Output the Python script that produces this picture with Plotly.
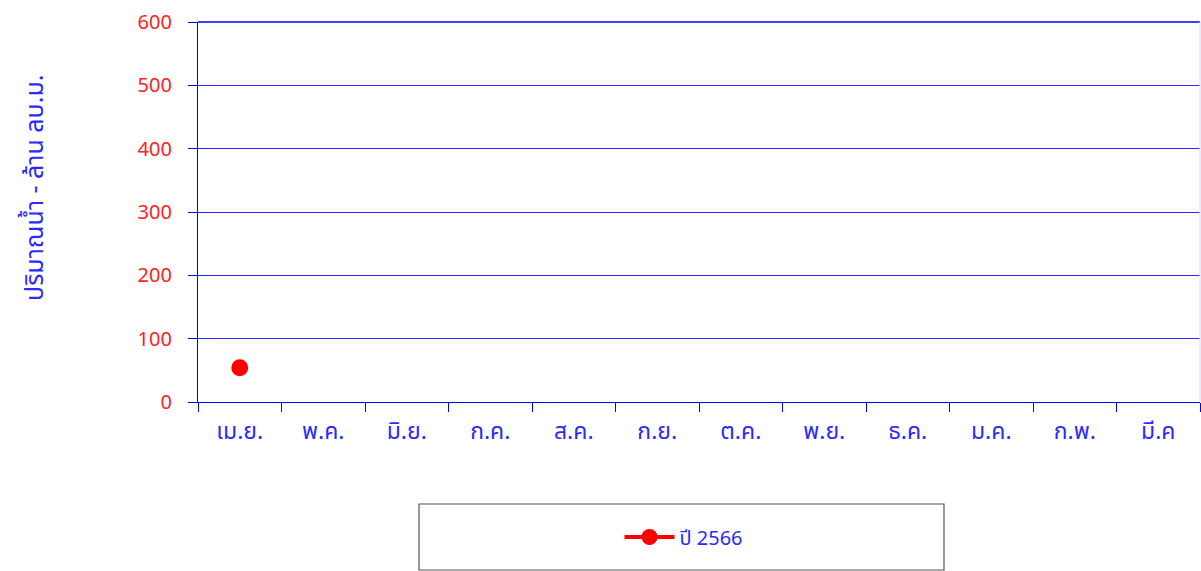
import plotly.graph_objects as go

months = ["เม.ย.", "พ.ค.", "มิ.ย.", "ก.ค.", "ส.ค.", "ก.ย.", "ต.ค.", "พ.ย.", "ธ.ค.", "ม.ค.", "ก.พ.", "มี.ค"]
values_2566 = [54, None, None, None, None, None, None, None, None, None, None, None]
series_name = "ปี 2566"
y_ticks = [0, 100, 200, 300, 400, 500, 600]

BLUE = "#0000ff"
GRID_BLUE = "#2a2aff"
TEXT_BLUE = "#2b2bff"
RED = "#ff0000"
FONT = "Noto Sans, Noto Sans Thai, sans-serif"

W, H = 1201, 571
L, R, T, B = 198, 1, 22, 169
PW = W - L - R  # 1002
PH = H - T - B  # 380


def px_x(x):
    return (x - L) / PW


def px_y(y):
    return (H - B - y) / PH


fig = go.Figure()
fig.add_trace(go.Scatter(
    x=months, y=values_2566, name=series_name,
    mode="lines+markers",
    line=dict(color=RED, width=4),
    marker=dict(color=RED, size=17),
    showlegend=True,
))

fig.update_layout(
    width=W, height=H,
    margin=dict(l=L, r=R, t=T, b=B, pad=0),
    paper_bgcolor="white", plot_bgcolor="white",
    font=dict(family=FONT),
    showlegend=True,
    legend=dict(
        x=px_x(684), y=px_y(537), xanchor="center", yanchor="middle",
        orientation="h", bgcolor="rgba(0,0,0,0)",
        font=dict(size=20, color=TEXT_BLUE, family=FONT),
        itemwidth=50,
    ),
    xaxis=dict(
        type="category", categoryorder="array", categoryarray=months,
        range=[-0.5, 11.5],
        showgrid=False, showline=True, linecolor=BLUE, linewidth=1.2,
        ticks="outside", tickson="boundaries", ticklen=9, tickcolor=BLUE, tickwidth=1,
        tickfont=dict(size=23, color=TEXT_BLUE, family=FONT),
        ticklabelstandoff=8,
        zeroline=False,
    ),
    yaxis=dict(
        range=[0, 600], tickvals=y_ticks,
        showgrid=True, gridcolor=GRID_BLUE, gridwidth=1,
        showline=True, linecolor=BLUE, linewidth=1.2,
        ticks="outside", ticklen=9, tickcolor=BLUE, tickwidth=1,
        tickfont=dict(size=20, color="#ff2222", family=FONT),
        ticklabelstandoff=12,
        zeroline=False,
    ),
    shapes=[
        dict(type="rect", xref="paper", yref="paper",
             x0=px_x(419), x1=px_x(944),
             y0=px_y(570), y1=px_y(504),
             line=dict(color="#555555", width=1.2), fillcolor="rgba(0,0,0,0)"),
        dict(type="line", xref="paper", yref="paper", x0=0, x1=1, y0=1, y1=1,
             line=dict(color=BLUE, width=1.5)),
        dict(type="line", xref="paper", yref="paper", x0=1, x1=1, y0=0, y1=1,
             line=dict(color="#d8d8ff", width=1)),
    ],
    annotations=[
        dict(text="ปริมาณน้ำ - ล้าน ลบ.ม.", xref="paper", yref="paper",
             x=px_x(33), y=px_y(188), textangle=-90, showarrow=False,
             xanchor="center", yanchor="middle",
             font=dict(size=25, color=TEXT_BLUE, family=FONT)),
    ],
)

fig.write_html(
    "out.html",
    config={"displayModeBar": False},
    post_script="document.body.style.margin='0';document.body.style.overflow='hidden';",
)
